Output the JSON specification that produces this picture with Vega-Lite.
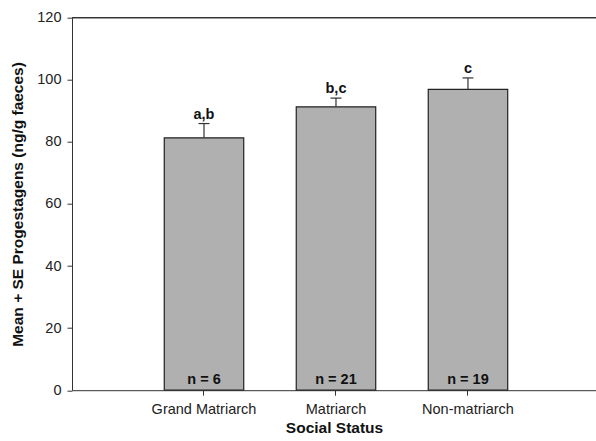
{
  "$schema": "https://vega.github.io/schema/vega-lite/v6.json",
  "width": 524,
  "height": 372.5,
  "autosize": "none",
  "padding": {"left": 72, "top": 17.7, "right": 0, "bottom": 50.8},
  "config": {
    "view": {"stroke": null},
    "font": "Liberation Sans",
    "axis": {
      "grid": false,
      "domainColor": "#333333",
      "tickColor": "#333333",
      "labelColor": "#222222",
      "titleColor": "#111111",
      "labelFont": "Liberation Sans",
      "titleFont": "Liberation Sans",
      "labelFontSize": 14.5,
      "titleFontSize": 15.5,
      "titleFontWeight": "bold",
      "tickSize": 5
    }
  },
  "data": {
    "values": [
      {"status": "Grand Matriarch", "mean": 81.3, "upper": 85.9, "sig": "a,b", "n": "n = 6"},
      {"status": "Matriarch", "mean": 91.3, "upper": 94.1, "sig": "b,c", "n": "n = 21"},
      {"status": "Non-matriarch", "mean": 96.9, "upper": 100.6, "sig": "c", "n": "n = 19"}
    ]
  },
  "layer": [
    {
      "mark": {"type": "bar", "fill": "#b0b0b0", "stroke": "#222222", "strokeWidth": 1.2},
      "encoding": {
        "x": {
          "field": "status", "type": "nominal", "sort": null,
          "scale": {"paddingInner": 0.398, "paddingOuter": 0.684, "align": 0.511},
          "axis": {"title": "Social Status", "labelAngle": 0, "labelPadding": 7, "titlePadding": 5}
        },
        "y": {
          "field": "mean", "type": "quantitative",
          "scale": {"domain": [0, 120]},
          "axis": {"title": "Mean + SE Progestagens (ng/g faeces)", "values": [0, 20, 40, 60, 80, 100, 120], "labelPadding": 6, "titlePadding": 11}
        }
      }
    },
    {
      "mark": {"type": "rule", "stroke": "#333333", "strokeWidth": 1.2},
      "encoding": {
        "x": {"field": "status", "type": "nominal", "sort": null},
        "y": {"field": "mean", "type": "quantitative"},
        "y2": {"field": "upper"}
      }
    },
    {
      "mark": {"type": "tick", "color": "#333333", "size": 11, "thickness": 1.2, "opacity": 1},
      "encoding": {
        "x": {"field": "status", "type": "nominal", "sort": null},
        "y": {"field": "upper", "type": "quantitative"}
      }
    },
    {
      "mark": {"type": "text", "fontWeight": "bold", "fontSize": 14.5, "baseline": "alphabetic", "dy": -5, "color": "#111111"},
      "encoding": {
        "x": {"field": "status", "type": "nominal", "sort": null},
        "y": {"field": "upper", "type": "quantitative"},
        "text": {"field": "sig"}
      }
    },
    {
      "mark": {"type": "text", "fontWeight": "bold", "fontSize": 14.5, "baseline": "alphabetic", "dy": -6.5, "color": "#111111"},
      "encoding": {
        "x": {"field": "status", "type": "nominal", "sort": null},
        "y": {"datum": 0, "type": "quantitative"},
        "text": {"field": "n"}
      }
    },
    {
      "mark": {"type": "rule", "stroke": "#333333", "strokeWidth": 1},
      "encoding": {
        "y": {"datum": 120, "type": "quantitative"}
      }
    }
  ]
}
